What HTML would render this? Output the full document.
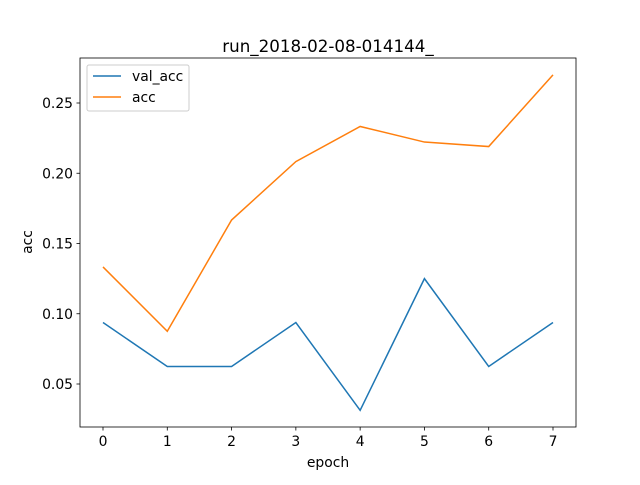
<!DOCTYPE html>
<html><head><meta charset="utf-8"><style>
body{margin:0;background:#fff;font-family:"Liberation Sans","DejaVu Sans",sans-serif;}
svg text{font-family:"DejaVu Sans","Liberation Sans",sans-serif;}
</style></head><body>
<svg id="chart" width="640" height="480">
<rect width="640" height="480" fill="#fff"/>
<g id="g"></g>
</svg>
<script>
const epochs=[0,1,2,3,4,5,6,7];
const valAcc=[0.09375,0.0625,0.0625,0.09375,0.03125,0.125,0.0625,0.09375];
const acc=[0.1333,0.0875,0.1667,0.2083,0.2333,0.2222,0.2190,0.2700];
const yTicks=[0.05,0.10,0.15,0.20,0.25];
const yTickLabels=["0.05","0.10","0.15","0.20","0.25"];
const xTicks=[0,1,2,3,4,5,6,7];

const L=80,R=576,T=58,B=427;
const xs=v=>103+v*(553-103)/7;
const ys=v=>384-(v-0.05)*(384-103)/0.2;
const ns='http://www.w3.org/2000/svg';
const g=document.getElementById('g');
function mk(t,a,txt){const e=document.createElementNS(ns,t);for(const k in a)e.setAttribute(k,a[k]);if(txt!==undefined)e.textContent=txt;g.appendChild(e);return e;}

function line(data,color,name){
  const p=mk('polyline',{points:data.map((v,i)=>xs(epochs[i])+','+ys(v)).join(' '),fill:'none',stroke:color,'stroke-width':1.5});
  
  
}
line(valAcc,'#1f77b4','val-acc-line');
line(acc,'#ff7f0e','acc-line');

const fr=mk('rect',{x:L,y:T,width:R-L,height:B-T,fill:'none',stroke:'#000','stroke-width':0.8});



xTicks.forEach(v=>{
  mk('line',{x1:xs(v),x2:xs(v),y1:B,y2:B+3.5,stroke:'#000','stroke-width':0.8});
  const t=mk('text',{x:xs(v),y:B+19,'font-size':13.9,'text-anchor':'middle'},String(v));
  
  
});
yTicks.forEach((v,i)=>{
  mk('line',{x1:L-3.5,x2:L,y1:ys(v),y2:ys(v),stroke:'#000','stroke-width':0.8});
  const t=mk('text',{x:L-7,y:ys(v)+5,'font-size':13.9,'text-anchor':'end'},yTickLabels[i]);
  
  
});
let t;
t=mk('text',{x:328,y:52,'font-size':16.7,'text-anchor':'middle'},'run_2018-02-08-014144_');


t=mk('text',{x:328,y:467,'font-size':13.9,'text-anchor':'middle'},'epoch');


t=mk('text',{x:32,y:242,'font-size':13.9,'text-anchor':'middle',transform:'rotate(-90 32 242)'},'acc');



const lg=mk('rect',{x:87,y:65,width:102,height:46,fill:'#fff',stroke:'#ccc','stroke-width':1,rx:2});


mk('line',{x1:93,x2:121,y1:76,y2:76,stroke:'#1f77b4','stroke-width':1.5});
t=mk('text',{x:132,y:81,'font-size':13.9},'val_acc');


mk('line',{x1:93,x2:121,y1:97,y2:97,stroke:'#ff7f0e','stroke-width':1.5});
t=mk('text',{x:132,y:102,'font-size':13.9},'acc');


</script>
</body></html>
